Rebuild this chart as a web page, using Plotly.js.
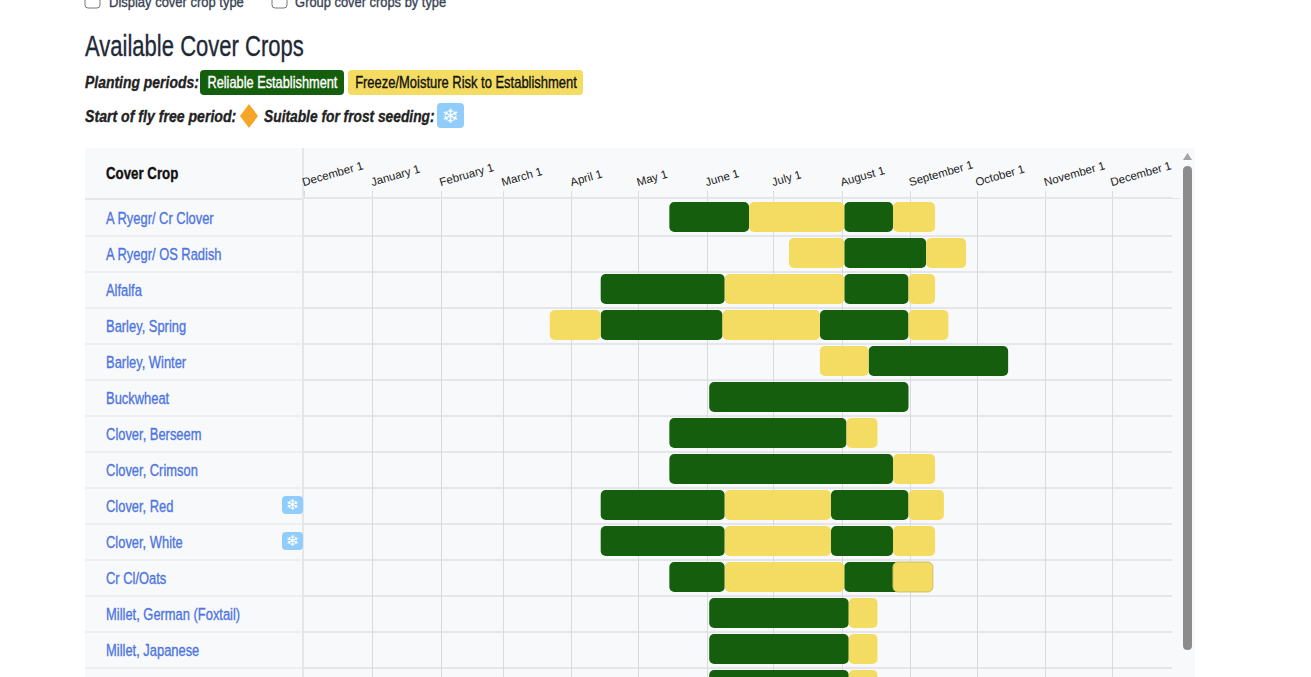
<!DOCTYPE html>
<html><head><meta charset="utf-8">
<script src="https://cdn.plot.ly/plotly-3.0.1.min.js"></script>
<style>html,body{margin:0;padding:0;background:#fff;overflow:hidden}#chart{width:1311px;height:677px}</style>
</head><body><div id="chart"></div>
<script>
const crops = ["A Ryegr/ Cr Clover","A Ryegr/ OS Radish","Alfalfa","Barley, Spring","Barley, Winter","Buckwheat","Clover, Berseem","Clover, Crimson","Clover, Red","Clover, White","Cr Cl/Oats","Millet, German (Foxtail)","Millet, Japanese","Millet, Pearl"];
const frostSeeded = ["Clover, Red","Clover, White"];
const monthTicks = ["2022-12-01","2023-01-01","2023-02-01","2023-03-01","2023-04-01","2023-05-01","2023-06-01","2023-07-01","2023-08-01","2023-09-01","2023-10-01","2023-11-01","2023-12-01"];
const monthLabels = ["December 1","January 1","February 1","March 1","April 1","May 1","June 1","July 1","August 1","September 1","October 1","November 1","December 1"];

const reliableCrop = ["A Ryegr/ Cr Clover","A Ryegr/ Cr Clover","A Ryegr/ OS Radish","Alfalfa","Alfalfa","Barley, Spring","Barley, Spring","Barley, Winter","Buckwheat","Clover, Berseem","Clover, Crimson","Clover, Red","Clover, Red","Clover, White","Clover, White","Cr Cl/Oats","Cr Cl/Oats","Millet, German (Foxtail)","Millet, Japanese","Millet, Pearl"];
const reliableStart = ["2023-05-15","2023-08-02","2023-08-02","2023-04-14","2023-08-02","2023-04-14","2023-07-22","2023-08-13","2023-06-02","2023-05-15","2023-05-15","2023-04-14","2023-07-27","2023-04-14","2023-07-27","2023-05-15","2023-08-02","2023-06-02","2023-06-02","2023-06-02"];
const reliableEnd = ["2023-06-20","2023-08-24","2023-09-08","2023-06-09","2023-08-31","2023-06-08","2023-08-31","2023-10-15","2023-08-31","2023-08-03","2023-08-24","2023-06-09","2023-08-31","2023-06-09","2023-08-24","2023-06-09","2023-08-31","2023-08-04","2023-08-04","2023-08-04"];

const riskCrop = ["A Ryegr/ Cr Clover","A Ryegr/ Cr Clover","A Ryegr/ OS Radish","A Ryegr/ OS Radish","Alfalfa","Alfalfa","Barley, Spring","Barley, Spring","Barley, Spring","Barley, Winter","Clover, Berseem","Clover, Crimson","Clover, Red","Clover, Red","Clover, White","Clover, White","Cr Cl/Oats","Millet, German (Foxtail)","Millet, Japanese","Millet, Pearl"];
const riskStart = ["2023-06-20","2023-08-24","2023-07-08","2023-09-08","2023-06-09","2023-08-31","2023-03-22","2023-06-08","2023-08-31","2023-07-22","2023-08-03","2023-08-24","2023-06-09","2023-08-31","2023-06-09","2023-08-24","2023-06-09","2023-08-04","2023-08-04","2023-08-04"];
const riskEnd = ["2023-08-02","2023-09-12","2023-08-02","2023-09-26","2023-08-02","2023-09-12","2023-04-14","2023-07-22","2023-09-18","2023-08-13","2023-08-17","2023-09-12","2023-07-27","2023-09-16","2023-07-27","2023-09-12","2023-08-02","2023-08-17","2023-08-17","2023-08-17"];

const overlapCrop = ["Cr Cl/Oats"];
const overlapStart = ["2023-08-24"];
const overlapEnd = ["2023-09-11"];

const W = 1311, H = 677, L = 304, R = 1172, T = 199, ROW = 36;
const PW = R - L, PH = H - T;
const GREEN = "#155e0d", YELLOW = "#f4dc63", BLUE = "#90cdfb", ORANGE = "#f5a527", PANEL = "#f8f9fb", LINE = "#e4e6ea", GRID = "#d9dbdf", LINK = "#4d75e0", INK = "#1f2937";
const SANS = "'Liberation Sans',Arial,sans-serif";

const px = x => (x - L) / PW, py = y => (H - y) / PH;
const dur = (s, e) => s.map((d, i) => Date.parse(e[i]) - Date.parse(d));

function rrect(x0, y0, x1, y1, r, fill, line) {
  const a = px(x0), b = px(x1), c = py(y0), d = py(y1), rx = r / PW, ry = r / PH;
  return {type: "path", xref: "paper", yref: "paper", layer: "below", fillcolor: fill,
    line: line ? {color: line, width: 1} : {width: 0},
    path: `M${a + rx},${c} L${b - rx},${c} Q${b},${c} ${b},${c - ry} L${b},${d + ry} Q${b},${d} ${b - rx},${d} L${a + rx},${d} Q${a},${d} ${a},${d + ry} L${a},${c - ry} Q${a},${c} ${a + rx},${c} Z`};
}
function hline(x0, x1, y, w) {
  return {type: "line", xref: "paper", yref: "paper", layer: "below", x0: px(x0), x1: px(x1), y0: py(y), y1: py(y), line: {color: LINE, width: w}};
}
function label(text, x, y, size, color, anchor, font) {
  return {text, xref: "paper", yref: "paper", x: px(x), y: py(y), xanchor: anchor || "left", yanchor: "middle", showarrow: false, font: {family: font || SANS, size, color}};
}
function bar(name, c, s, e, color, line) {
  return {type: "bar", orientation: "h", name, y: c, base: s, x: dur(s, e), width: 0.83,
    marker: {color, line: line || {width: 0}}, hoverinfo: "y+name"};
}

const shapes = [
  rrect(85, 148, 1195, 700, 3, PANEL),
  rrect(85, -8, 100, 8, 3, "#fff", "#767676"),
  rrect(272, -8, 287, 8, 3, "#fff", "#767676"),
  rrect(200, 70, 344, 95, 4, GREEN),
  rrect(348, 70, 583, 95, 4, YELLOW),
  rrect(437, 103, 464, 128, 4, BLUE),
  {type: "path", xref: "paper", yref: "paper", layer: "below", fillcolor: ORANGE, line: {width: 0},
   path: `M${px(249)},${py(104)} L${px(258)},${py(116)} L${px(249)},${py(128)} L${px(240)},${py(116)} Z`},
  {type: "line", xref: "paper", yref: "paper", layer: "below", x0: px(303), x1: px(303), y0: py(148), y1: py(700), line: {color: LINE, width: 2}},
  hline(85, 303, 199, 2),
  hline(1172, 1180, 198.5, 1),
  rrect(1183, 166, 1192, 650, 4.5, "#8c8c8c"),
  {type: "path", xref: "paper", yref: "paper", layer: "below", fillcolor: "#a3a3a3", line: {width: 0},
   path: `M${px(1183)},${py(160)} L${px(1187.5)},${py(153)} L${px(1192)},${py(160)} Z`}
];
crops.forEach((c, i) => {
  const y = T + ROW * (i + 1) + 1;
  shapes.push(hline(85, 303, y, 1));
  shapes.push(hline(304, R, y, 2));
});
frostSeeded.forEach(c => {
  const cy = T + ROW * (crops.indexOf(c) + 0.5);
  shapes.push(rrect(282, cy - 9, 303, cy + 9, 4, BLUE));
});

// Oswald is not installed: each text is condensed horizontally to its width in the reference.
const condense = [];
function squeezed(a, factor) { condense.push(factor); return a; }
const annotations = [
  squeezed(label("Display cover crop type", 107, 1, 15, "#374151"), 0.865),
  squeezed(label("Group cover crops by type", 293, 1, 15, "#374151"), 0.86),
  squeezed(label("<b><i>Planting periods:</i></b>", 83, 83, 17, "#222"), 0.82),
  squeezed(label("Reliable Establishment", 272.5, 83, 16, "#fff", "center"), 0.80),
  squeezed(label("Freeze/Moisture Risk to Establishment", 466, 83, 16, "#111", "center"), 0.81),
  squeezed(label("<b><i>Start of fly free period:</i></b>", 83, 116, 17, "#222"), 0.83),
  squeezed(label("<b><i>Suitable for frost seeding:</i></b>", 262, 116, 17, "#222"), 0.81),
  squeezed(label("❄", 450.5, 116, 20, "#fff", "center", "DejaVu Sans"), 1),
  squeezed(label("<b>Cover Crop</b>", 104, 174, 16, "#111"), 0.83)
];
crops.forEach(c => annotations.push(squeezed({text: c, xref: "paper", yref: "y", x: px(104), y: c, yshift: -1, xanchor: "left", yanchor: "middle", showarrow: false, font: {family: SANS, size: 17, color: LINK}}, 0.76)));
frostSeeded.forEach(c => annotations.push(squeezed(label("❄", 292.5, T + ROW * (crops.indexOf(c) + 0.5), 15, "#fff", "center", "DejaVu Sans"), 1)));

const msPerPx = (Date.parse(monthTicks[12]) - Date.parse(monthTicks[0])) / 808;

const traces = [
  bar("Reliable Establishment", reliableCrop, reliableStart, reliableEnd, GREEN),
  bar("Freeze/Moisture Risk to Establishment", riskCrop, riskStart, riskEnd, YELLOW),
  bar("Freeze/Moisture Risk to Establishment", overlapCrop, overlapStart, overlapEnd, YELLOW, {color: "#cfc162", width: 1})
];

const layout = {
  width: W, height: H, autosize: false, showlegend: false, barmode: "overlay", barcornerradius: 5,
  paper_bgcolor: "#fff", plot_bgcolor: "rgba(0,0,0,0)",
  margin: {l: L, r: W - R, t: T, b: 0, pad: 0},
  title: {text: "Available Cover Crops", xref: "container", yref: "container", x: 85 / W, y: 1 - 46 / H, xanchor: "left", yanchor: "middle", font: {family: SANS, size: 29, color: INK}},
  xaxis: {type: "date", side: "top", range: [monthTicks[0], new Date(Date.parse(monthTicks[0]) + PW * msPerPx).toISOString().slice(0, 10)],
    tickmode: "array", tickvals: monthTicks, ticktext: monthLabels, tickangle: -16, ticklabelshift: -2,
    ticks: "outside", ticklen: 6, tickcolor: GRID, tickfont: {family: SANS, size: 11.5, color: "#222"},
    showgrid: true, gridcolor: GRID, gridwidth: 1, showline: true, linecolor: LINE, linewidth: 2, zeroline: false, fixedrange: true},
  yaxis: {type: "category", categoryorder: "array", categoryarray: crops, range: [PH / ROW - 0.5, -0.5],
    showticklabels: false, ticks: "", showgrid: false, zeroline: false, showline: false, fixedrange: true},
  shapes, annotations
};

function squeeze(el, f, anchor) {
  const b = el.getBBox();
  const ox = anchor === "center" ? b.x + b.width / 2 : b.x;
  const prev = el.getAttribute("transform") || "";
  el.setAttribute("transform", `${prev} translate(${ox},0) scale(${f},1) translate(${-ox},0)`);
  el.style.stroke = el.style.fill;
  el.style.strokeWidth = "0.35px";
}
Plotly.newPlot("chart", traces, layout, {displayModeBar: false, responsive: false}).then(gd => {
  gd.querySelectorAll(".annotation").forEach(g => {
    const i = +g.getAttribute("data-index");
    const t = g.querySelector("text");
    if (t && condense[i] !== 1) squeeze(t, condense[i], annotations[i].xanchor);
  });
  const title = gd.querySelector(".gtitle");
  if (title) squeeze(title, 0.76, "left");
});
</script></body></html>
